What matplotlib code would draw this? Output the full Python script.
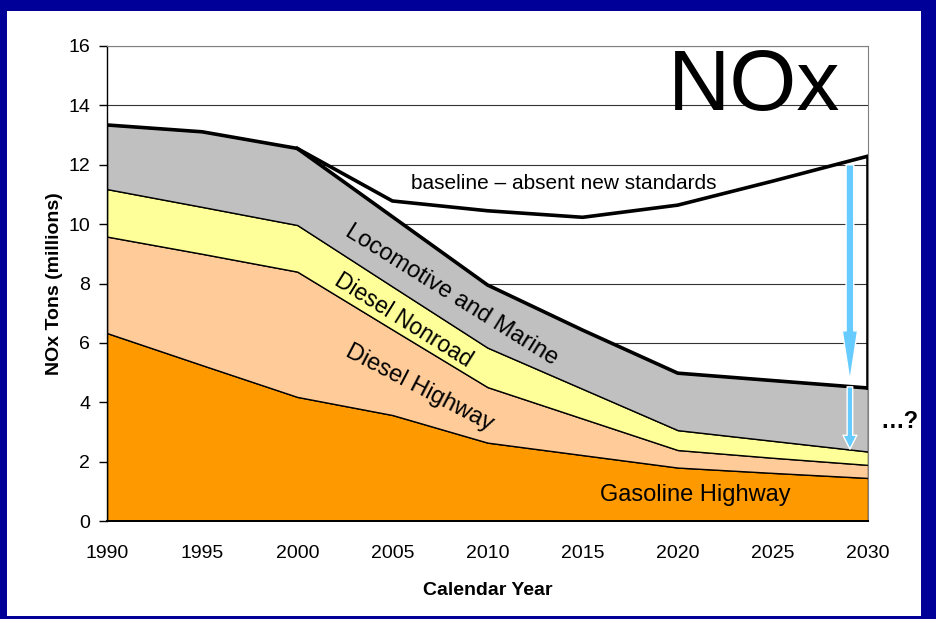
import matplotlib.pyplot as plt
import matplotlib.patches as patches
import numpy as np

plt.rcParams["font.family"] = ["Liberation Sans", "DejaVu Sans"]

# NOx emissions by source, millions of tons
years = [1990, 1995, 2000, 2005, 2010, 2015, 2020, 2025, 2030]
gasoline_hwy = [6.33, 5.25, 4.18, 3.57, 2.64, 2.22, 1.80, 1.62, 1.45]
diesel_hwy = [3.25, 3.75, 4.22, 2.88, 1.87, 1.23, 0.59, 0.51, 0.44]
diesel_nonroad = [1.60, 1.58, 1.57, 1.45, 1.33, 1.00, 0.67, 0.57, 0.45]
loco_marine = [2.16, 2.53, 2.58, 2.35, 2.11, 1.98, 1.92, 2.03, 2.14]
baseline = [13.34, 13.11, 12.55, 10.78, 10.45, 10.23, 10.64, 11.45, 12.29]

layer_names = ["Gasoline Highway", "Diesel Highway", "Diesel Nonroad",
               "Locomotive and Marine"]
layer_colors = ["#FF9900", "#FFCC99", "#FFFF99", "#C0C0C0"]

total = np.sum([gasoline_hwy, diesel_hwy, diesel_nonroad, loco_marine], axis=0)

fig = plt.figure(figsize=(9.37, 6.19), dpi=100, facecolor="#000099")
fig.patches.append(patches.Rectangle((7 / 937, 3 / 619), 914 / 937, 605 / 619,
                                     transform=fig.transFigure,
                                     facecolor="white", edgecolor="none",
                                     zorder=-10))

ax = fig.add_axes([107 / 937, 98 / 619, 761 / 937, 475 / 619])
ax.set_facecolor("white")

ax.stackplot(years, gasoline_hwy, diesel_hwy, diesel_nonroad, loco_marine,
             colors=layer_colors, edgecolor="black", linewidth=1, zorder=2)

# total line and the baseline envelope closed at the final year
ax.plot(years, total, color="black", lw=2.6, zorder=3,
        solid_joinstyle="miter")
ax.plot(years[2:] + [years[-1]], baseline[2:] + [total[-1]], color="black",
        lw=2.6, zorder=3, solid_joinstyle="miter")

ax.set_xlim(1990, 2030)
ax.set_ylim(0, 16)
ax.set_xticks(range(1990, 2031, 5))
ax.set_yticks(range(0, 17, 2))
ax.yaxis.grid(True, color="#333333", lw=0.8)
ax.set_axisbelow(True)

ax.tick_params(axis="x", length=0, pad=17, labelsize=14)
ax.tick_params(axis="y", length=6, width=1, pad=6, labelsize=14)
ax.spines["left"].set_linewidth(1)
ax.spines["bottom"].set_linewidth(1.4)
for side in ("top", "right"):
    ax.spines[side].set_color("#808080")
    ax.spines[side].set_linewidth(0.8)

ax.set_xlabel("Calendar Year", fontsize=14, fontweight="bold", labelpad=15)
ax.set_ylabel("NOx Tons (millions)", fontsize=14, fontweight="bold",
              labelpad=4)

# reduction arrows
arrow_x = 2029.05
ax.annotate("", xy=(arrow_x, 4.72), xytext=(arrow_x, 12.0),
            arrowprops=dict(arrowstyle="simple,head_width=1.1,head_length=3.6,"
                                       "tail_width=0.55",
                            mutation_scale=10, fc="#66CCFF", ec="white",
                            lw=1, shrinkA=0, shrinkB=0), zorder=5)
ax.annotate("", xy=(arrow_x, 2.42), xytext=(arrow_x, 4.52),
            arrowprops=dict(arrowstyle="simple,head_width=1.0,head_length=1.0,"
                                       "tail_width=0.4",
                            mutation_scale=10, fc="#66CCFF", ec="white",
                            lw=1, shrinkA=0, shrinkB=0), zorder=5)

ax.text(2014.0, 11.38, "baseline \u2013 absent new standards", fontsize=15,
        ha="center", va="center", zorder=4)
ax.text(2008.1, 7.6, layer_names[3], fontsize=17, rotation=-32,
        ha="center", va="center", zorder=4)
ax.text(2005.6, 6.75, layer_names[2], fontsize=16.5, rotation=-32,
        ha="center", va="center", zorder=4)
ax.text(2006.4, 4.5, layer_names[1], fontsize=17, rotation=-27.5,
        ha="center", va="center", zorder=4)
ax.text(2020.9, 0.87, layer_names[0], fontsize=17,
        ha="center", va="center", zorder=4)

fig.text(754 / 937, 1 - 88 / 619, "NOx", fontsize=62, ha="center",
         va="center")
fig.text(899 / 937, 1 - 422 / 619, "\u2026?", fontsize=17,
         fontweight="bold", ha="center", va="center")

fig.savefig("out.png", dpi=100, facecolor=fig.get_facecolor())
